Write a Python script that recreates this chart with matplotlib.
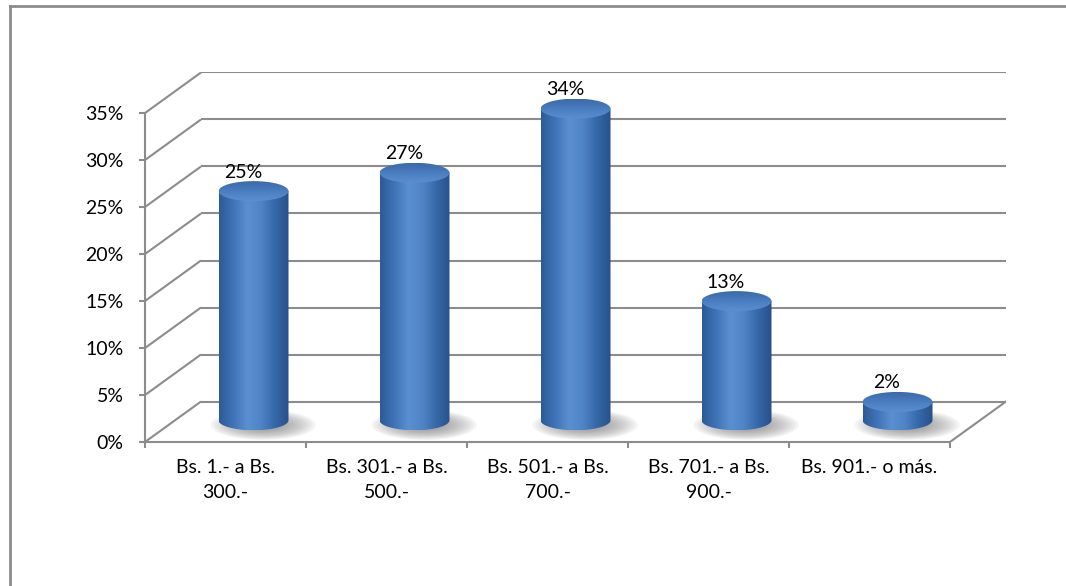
import numpy as np
import matplotlib
matplotlib.use('Agg')
import matplotlib.pyplot as plt
from matplotlib.patches import Ellipse, Polygon
from matplotlib.colors import LinearSegmentedColormap
from matplotlib.lines import Line2D

# datos del gráfico
categories = ['Bs. 1.- a Bs.\n300.-', 'Bs. 301.- a Bs.\n500.-', 'Bs. 501.- a Bs.\n700.-',
              'Bs. 701.- a Bs.\n900.-', 'Bs. 901.- o más.']
values = [25, 27, 34, 13, 2]
yticks = [0, 5, 10, 15, 20, 25, 30, 35]
ytick_labels = ['0%', '5%', '10%', '15%', '20%', '25%', '30%', '35%']

plt.rcParams['font.family'] = ['Lato', 'DejaVu Sans']

W, H = 1066, 586
fig = plt.figure(figsize=(W / 100, H / 100), dpi=100)
fig.patch.set_facecolor('white')

# ejes: el frente va de x=0 a n, la pared del fondo desplazada por (dx, dy)
n = len(categories)
px_x = 161.0
px_y = 9.4
dx = 56 / px_x
dy = 40.5 / px_y
ax = fig.add_axes([145 / W, (H - 442) / H, (n * px_x + 56) / W, (35 + dy) * px_y / H])

grid_c = '#8c8c8c'
lw = 1.5
fs = 14

# pared del fondo y piso
for v in yticks:
    ax.plot([0, dx], [v, v + dy], color=grid_c, lw=lw, zorder=1, solid_capstyle='butt')
    ax.plot([dx, n + dx], [v + dy, v + dy], color=grid_c, lw=lw, zorder=1, solid_capstyle='butt')
ax.plot([n, n + dx], [0, dy], color=grid_c, lw=lw, zorder=1)

# cilindros
bw = 70 / px_x
eh = 10 / px_y
body_cmap = LinearSegmentedColormap.from_list(
    'body', ['#2d5a96', '#3f73b7', '#5a8fd1', '#4f84c6', '#3568a8', '#28508a'])
cap_cmap = LinearSegmentedColormap.from_list('cap', ['#3a6aa9', '#4a7ec0', '#5b8ed0'])
grad = np.linspace(0, 1, 256).reshape(1, -1)
cap_grad = np.linspace(0, 1, 64).reshape(-1, 1)

for i, v in enumerate(values):
    cx = i + 0.5 + dx / 2
    base = dy / 2 + 0.16
    top = base + v * 0.975
    x0, x1 = cx - bw / 2, cx + bw / 2

    # sombra
    for k in range(12):
        f = 1 - k * 0.06
        ax.add_patch(Ellipse((cx + 0.06, base - 0.5), bw * 1.5 * f, eh * 3.0 * f,
                             facecolor='#6e6e6e', edgecolor='none', alpha=0.07, zorder=2))

    t = np.linspace(np.pi, 2 * np.pi, 80)
    arc = list(zip(cx + bw / 2 * np.cos(t), base + eh * np.sin(t)))
    body = Polygon([(x0, top)] + arc + [(x1, top)], closed=True,
                   facecolor='none', edgecolor='none')
    ax.add_patch(body)
    im = ax.imshow(grad, cmap=body_cmap, extent=(x0, x1, base - eh, top),
                   aspect='auto', interpolation='bilinear', zorder=3)
    im.set_clip_path(body)

    cap = Ellipse((cx, top), bw, 2 * eh, facecolor='none', edgecolor='none')
    ax.add_patch(cap)
    im2 = ax.imshow(cap_grad, cmap=cap_cmap, extent=(x0, x1, top - eh, top + eh),
                    aspect='auto', interpolation='bilinear', zorder=4)
    im2.set_clip_path(cap)

    ax.text(cx - 0.065, top + eh + 0.05, f'{v}%', ha='center', va='bottom',
            fontsize=fs, color='black', zorder=5)

ax.set_xlim(0, n + dx)
ax.set_ylim(0, 35 + dy)

# ejes frontales
for s in ['top', 'right']:
    ax.spines[s].set_visible(False)
ax.spines['left'].set_bounds(0, 35)
ax.spines['bottom'].set_bounds(0, n)
for s in ['left', 'bottom']:
    ax.spines[s].set_color(grid_c)
    ax.spines[s].set_linewidth(lw)
ax.set_facecolor('none')

ax.set_yticks(yticks)
ax.set_yticklabels(ytick_labels)
ax.tick_params(axis='y', length=4.3, width=lw, color=grid_c, pad=11, labelsize=fs)

ax.set_xticks(range(n + 1))
ax.set_xticklabels([])
ax.set_xticks(np.arange(n) + 0.5, minor=True)
ax.set_xticklabels(categories, minor=True, linespacing=1.6)
ax.tick_params(axis='x', which='major', length=4.3, width=lw, color=grid_c)
ax.tick_params(axis='x', which='minor', length=0, pad=12, labelsize=fs)

# marco exterior
fig.add_artist(Line2D([10 / W, 10 / W], [0, 1 - 5.5 / H], transform=fig.transFigure,
                      color=grid_c, lw=2))
fig.add_artist(Line2D([10 / W, 1], [1 - 5.5 / H, 1 - 5.5 / H], transform=fig.transFigure,
                      color=grid_c, lw=2))

fig.savefig('out.png', dpi=100)
